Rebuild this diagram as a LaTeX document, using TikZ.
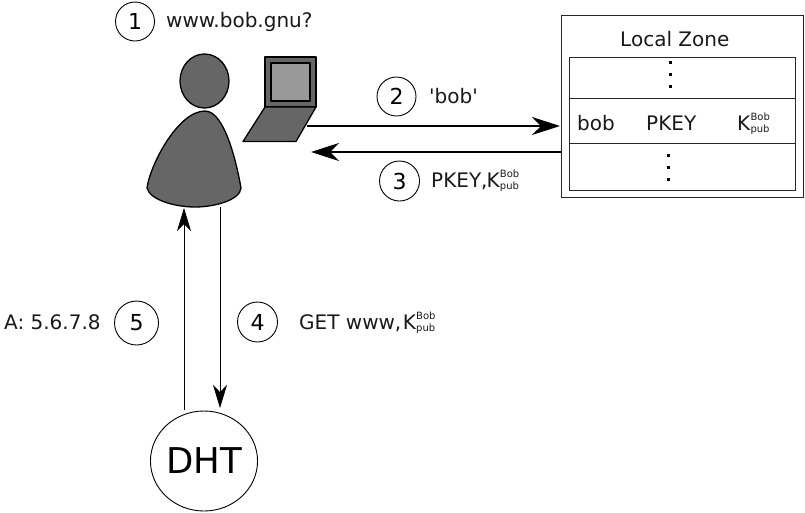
\documentclass[tikz,border=0pt]{standalone}
\usepackage{fontspec}
\setmainfont[Ligatures=TeXOff]{DejaVu Sans}
\usetikzlibrary{arrows.meta,shapes.geometric}
\newcommand{\kbob}{K\kern0.2pt\rlap{\raisebox{10pt}{\fontsize{10}{12}\selectfont Bob}}\raisebox{-2pt}{\fontsize{10}{12}\selectfont pub}}
\tikzset{
  x=1pt,y=-1pt,
  inner sep=0pt,
  numcircle/.style={draw,circle,line width=0.9pt,font=\fontsize{22}{24}\selectfont},
  lbl/.style={font=\fontsize{20}{22}\selectfont,anchor=base west,text=black!90},
  shp/.style={draw=black,line width=1.3pt,fill=black!60,line join=round},
  bigtip/.style={-{Stealth[length=28pt,width=18pt,inset=9pt]},line width=1.3pt},
  smalltip/.style={-{Stealth[length=23pt,width=14pt,inset=7pt]},line width=1pt},
  zone/.style={draw=black!85,line width=1.1pt}
}
\begin{document}
\begin{tikzpicture}
\useasboundingbox (0,0) rectangle (805,512);
% person
\draw[shp] (204.5,81) ellipse [x radius=24.5,y radius=27];
\path[shp] (205,111) .. controls (178,111) and (150,165) .. (147,188)
  .. controls (150,200) and (175,207) .. (195,207)
  .. controls (215,207) and (240,200) .. (241,188)
  .. controls (237,165) and (225,111) .. (205,111) -- cycle;
\coordinate (bodyA) at (220,207);
\coordinate (bodyB) at (184,208);
% laptop
\path[shp] (265,57) rectangle (316,107);
\path[shp,fill=black!40] (271,63) rectangle (310,101);
\path[shp] (265,107) -- (316,107) -- (296,141.5) -- (243,141.5) -- cycle;
\coordinate (lapA) at (307,126);
\coordinate (lapB) at (311,152);
% zone
\node[zone,minimum width=242pt,minimum height=182pt,anchor=north west] (zone) at (561,15) {};
\node[zone,minimum width=226pt,minimum height=41pt,anchor=north west] (r1) at (569,57) {};
\node[zone,minimum width=226pt,minimum height=45pt,anchor=north west] (r2) at (569,98) {};
\node[zone,minimum width=226pt,minimum height=47pt,anchor=north west] (r3) at (569,143) {};
\node[lbl] (lz) at (620,46) {Local Zone};
\node[lbl] (bob) at (577,130) {bob};
\node[lbl] (pkey) at (646,130) {PKEY};
\node[lbl] (kz) at (737,130) {\kbob};
\foreach \n/\xx/\yy in {a/670/62,b/670/74,c/670/86,d/668/155,e/668/167,f/668/179}{
  \fill (\xx-1.5,\yy-1.5) rectangle (\xx+1.5,\yy+1.5);
}
% arrows
\coordinate (zoneA) at (560,126);
\coordinate (zoneB) at (561,152);
\draw[bigtip] (lapA) -- (zoneA);
\draw[bigtip] (zoneB) -- (lapB);
% DHT
\node[draw,ellipse,line width=0.9pt,minimum width=106pt,minimum height=100pt,font=\fontsize{35.5}{38}\selectfont] (dht) at (204,461) {DHT};
\coordinate (dhtA) at (220,408);
\coordinate (dhtB) at (184,410);
\draw[smalltip] (bodyA) -- (dhtA);
\draw[smalltip] (dhtB) -- (bodyB);
% numbers
\node[numcircle,minimum size=39pt] (n1) at (135,21.5) {1};
\node[numcircle,minimum size=39pt] (n2) at (396.5,96.5) {2};
\node[numcircle,minimum size=40pt] (n3) at (399.5,181) {3};
\node[numcircle,minimum size=40pt] (n4) at (257.5,322) {4};
\node[numcircle,minimum size=44pt] (n5) at (136.5,323) {5};
\node[lbl] (t1) at (166,27) {www.bob.gnu?};
\node[lbl] (t2) at (429,103) {'bob'};
\node[lbl] (t3) at (431,187) {PKEY,\kern-1pt\kbob};
\node[lbl] (t4) at (299,329) {GET www,\kern1.5pt\kbob};
\node[lbl] (t5) at (4,329) {A: 5.6.7.8};
\end{tikzpicture}
\end{document}
